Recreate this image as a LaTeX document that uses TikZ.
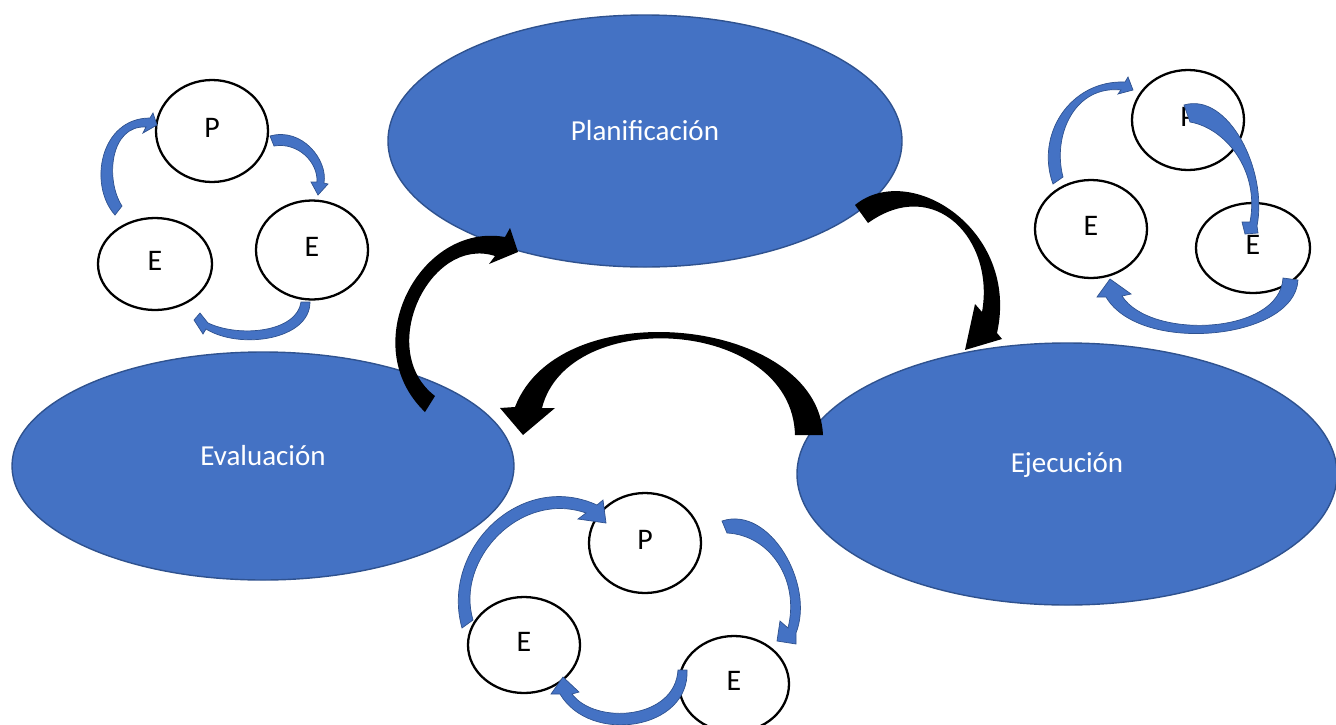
\documentclass[tikz,border=0pt]{standalone}
\usepackage{fontspec}
\setmainfont{Carlito}
\usetikzlibrary{shapes.geometric}
\definecolor{phasefill}{HTML}{4472C4}
\definecolor{phaseedge}{HTML}{2F528F}

\begin{document}
\begin{tikzpicture}[x=0.02cm,y=-0.02cm,
  phase/.style={ellipse, fill=phasefill, draw=phaseedge, line width=0.8pt, inner sep=0pt},
  phaselabel/.style={text=white, font=\fontsize{16.5}{19}\selectfont, inner sep=0pt},
  cyclenode/.style={ellipse, draw=black, fill=white, line width=1.3pt, inner sep=0pt},
  cyclelabel/.style={font=\fontsize{17}{20}\selectfont, inner sep=0pt},
  bigarrow/.style={fill=black},
  smallarrow/.style={fill=phasefill, draw=phaseedge, line width=0.4pt}]
\useasboundingbox (0,0) rectangle (1336,724);

% the three phases
\node[phase, minimum width=514*0.02cm, minimum height=252*0.02cm] (plan) at (645,141) {};
\node[phase, minimum width=502*0.02cm, minimum height=228*0.02cm] (eval) at (263,466) {};
\node[phase, minimum width=540*0.02cm, minimum height=262*0.02cm] (exec) at (1067,474) {};
\node[phaselabel] (planlbl) at ([yshift=0.2cm]plan.center) {Planificación};
\node[phaselabel] (evallbl) at ([yshift=0.2cm]eval.center) {Evaluación};
\node[phaselabel] (execlbl) at ([yshift=0.18cm]exec.center) {Ejecución};

% black curved block arrows between the phases
\fill[bigarrow] (425,412) .. controls (355,345) and (420,222) .. (505,237)
  -- (510,228) -- (518,252) -- (489,264) -- (495,256)
  .. controls (430,235) and (375,350) .. (435,396) -- cycle;
\fill[bigarrow] (855,205) .. controls (910,160) and (1020,230) .. (997,333)
  -- (1002,339) -- (965,350) -- (975,304) -- (982,312)
  .. controls (995,240) and (935,175) .. (868,223) -- cycle;
\fill[bigarrow] (823,435) .. controls (818,318) and (560,290) .. (515,407)
  -- (500,408) -- (523,435) -- (555,408) -- (542,408)
  .. controls (568,305) and (792,318) .. (795,435) -- cycle;

% small cycle, upper left
\node[cyclenode, minimum width=112*0.02cm, minimum height=102*0.02cm] (p1) at (212,131) {};
\node[cyclenode, minimum width=112*0.02cm, minimum height=99*0.02cm] (er1) at (312,250) {};
\node[cyclenode, minimum width=114*0.02cm, minimum height=92*0.02cm] (el1) at (155,264) {};

% small cycle, upper right
\node[cyclenode, minimum width=112*0.02cm, minimum height=100*0.02cm] (p2) at (1188,120) {};
\node[cyclenode, minimum width=112*0.02cm, minimum height=98*0.02cm] (el2) at (1091,229) {};
\node[cyclenode, minimum width=114*0.02cm, minimum height=90*0.02cm] (er2) at (1253,248) {};

% small cycle, bottom
\node[cyclenode, minimum width=112*0.02cm, minimum height=100*0.02cm] (p3) at (645,543) {};
\node[cyclenode, minimum width=112*0.02cm, minimum height=96*0.02cm] (el3) at (524,645) {};
\node[cyclenode, minimum width=110*0.02cm, minimum height=96*0.02cm] (er3) at (734,684) {};

% letters of the small cycles, set a little above centre
\foreach \n/\t in {p1/P, er1/E, el1/E, p2/P, el2/E, er2/E, p3/P, el3/E, er3/E}
  \node[cyclelabel] (\n lbl) at ([yshift=0.07cm]\n.center) {\t};

% blue arrows, upper left cycle
\filldraw[smallarrow] (115,215) .. controls (88,185) and (100,118) .. (150,118)
  -- (153,113) -- (157,125) -- (143,133) -- (146,127)
  .. controls (110,125) and (105,180) .. (122,206) -- cycle;
\filldraw[smallarrow] (270,136) .. controls (302,127) and (328,160) .. (324,183)
  -- (328,184) -- (318,195) -- (311,182) -- (317,182)
  .. controls (318,162) and (298,142) .. (274,146) -- cycle;
\filldraw[smallarrow] (310,302) .. controls (310,340) and (240,350) .. (206,329)
  -- (203,334) -- (194,320) -- (200,313) -- (208,323)
  .. controls (240,338) and (297,332) .. (301,302) -- cycle;

% blue arrows, upper right cycle
\filldraw[smallarrow] (1053,184) .. controls (1035,135) and (1070,80) .. (1125,82)
  -- (1128,77) -- (1133,90) -- (1118,94) -- (1121,90)
  .. controls (1075,85) and (1052,135) .. (1063,177) -- cycle;
\filldraw[smallarrow] (1184,105) .. controls (1228,92) and (1268,170) .. (1257,226)
  -- (1258,233) -- (1245,234) -- (1242,222) -- (1250,222)
  .. controls (1260,170) and (1225,128) .. (1190,122) -- cycle;
\filldraw[smallarrow] (1298,280) .. controls (1295,340) and (1140,355) .. (1106,297)
  -- (1097,297) -- (1110,279) -- (1131,294) -- (1122,296)
  .. controls (1150,340) and (1280,335) .. (1283,278) -- cycle;

% blue arrows, bottom cycle
\filldraw[smallarrow] (462,628) .. controls (440,550) and (520,470) .. (597,505)
  -- (603,500) -- (606,523) -- (578,519) -- (586,513)
  .. controls (520,490) and (455,560) .. (473,620) -- cycle;
\filldraw[smallarrow] (722,521) .. controls (770,505) and (815,585) .. (796,633)
  -- (796,644) -- (777,641) -- (780,621) -- (788,628)
  .. controls (800,580) and (770,535) .. (727,533) -- cycle;
\filldraw[smallarrow] (687,670) .. controls (690,730) and (590,745) .. (560,694)
  -- (551,694) -- (563,677) -- (579,692) -- (572,694)
  .. controls (595,725) and (675,720) .. (678,670) -- cycle;
\end{tikzpicture}
\end{document}
